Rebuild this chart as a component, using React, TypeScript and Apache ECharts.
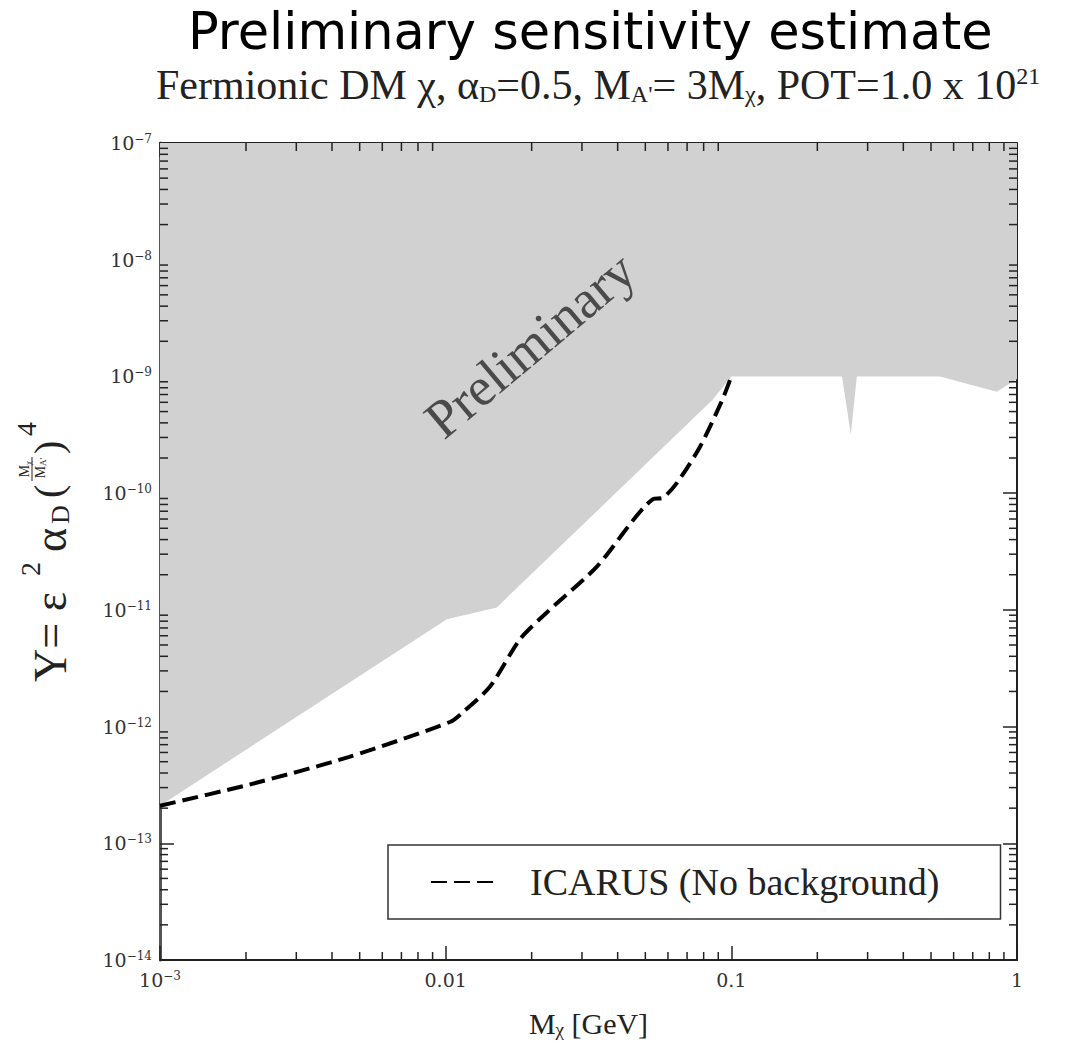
import React, { useEffect, useRef } from "react";
import * as echarts from "echarts";

// ---- axis ranges ----
const X_MIN = 1e-3;
const X_MAX = 1;
const Y_MIN = 1e-14;
const Y_MAX = 1e-7;

// ---- excluded (grey) region: lower boundary, filled up to the top ----
const excludedX = [0.001, 0.0101, 0.0151, 0.086, 0.1, 0.244, 0.262, 0.275, 0.537, 0.85, 1.0];
const excludedY = [2.1e-13, 8.3e-12, 1.05e-11, 6.3e-10, 1e-9, 1e-9, 3.2e-10, 1e-9, 1e-9, 7.4e-10, 9.5e-10];

// ---- ICARUS (No background) sensitivity curve ----
const icarusX = [0.001, 0.00207, 0.0046, 0.0104, 0.0115, 0.0143, 0.0182, 0.0226, 0.0339, 0.0532, 0.0575, 0.0646, 0.0777, 0.093, 0.1];
const icarusY = [2.1e-13, 3.2e-13, 5.5e-13, 1.1e-12, 1.33e-12, 2.2e-12, 5.6e-12, 9.5e-12, 2.36e-11, 8.9e-11, 9.1e-11, 1.23e-10, 2.5e-10, 6.3e-10, 1e-9];

// ---- tick decades ----
const xDecades = [-3, -2, -1];
const yDecades = [-14, -13, -12, -11, -10, -9, -8];
const minorMultipliers = [2, 3, 4, 5, 6, 7, 8, 9];

const SERIES_NAME = "ICARUS (No background)";
const SERIF = "Liberation Serif";
const TICKFONT = "DejaVu Serif";

function xLabel(v: number): string {
  const e = Math.round(Math.log10(v));
  if (e === -3) return "10{sup|−3}";
  if (e === -2) return "0.01";
  if (e === -1) return "0.1";
  if (e === 0) return "1";
  return String(v);
}
function yLabel(v: number): string {
  const e = Math.round(Math.log10(v));
  return "10{sup|−" + Math.abs(e) + "}";
}

export default function App() {
  const ref = useRef<HTMLDivElement>(null);
  useEffect(() => {
    if (!ref.current) return;
    const chart = echarts.init(ref.current, null, { renderer: "svg" });

    const minorData: number[][] = [];
    xDecades.forEach((d) => minorMultipliers.forEach((m) => minorData.push([m * Math.pow(10, d), Y_MIN, 0])));
    yDecades.forEach((d) => minorMultipliers.forEach((m) => minorData.push([X_MIN, m * Math.pow(10, d), 1])));

    const axisLine = { show: true, lineStyle: { color: "#222", width: 2 } };
    const majorTick = { show: true, inside: true, length: 14, lineStyle: { color: "#222", width: 1.5 } };
    const labelRich = { sup: { fontSize: 12, verticalAlign: "top" as const, fontFamily: TICKFONT, color: "#333", padding: [0, 0, 8, 0] } };

    const option: any = {
      animation: false,
      backgroundColor: "#fff",
      title: [
        {
          text: "Preliminary sensitivity estimate",
          left: 188,
          top: 3,
          padding: 0,
          textStyle: { fontFamily: "DejaVu Sans", fontSize: 51, lineHeight: 56, fontWeight: "normal", color: "#000" },
        },
        {
          text: "Fermionic DM χ, α{sub|D}=0.5, M{sub|A'}= 3M{sub|χ}, POT=1.0 x 10{sup|21}",
          left: 156,
          top: 64,
          padding: 0,
          textStyle: {
            fontFamily: SERIF,
            fontSize: 42,
            fontWeight: "normal",
            color: "#222",
            lineHeight: 42,
            rich: {
              sub: { fontFamily: SERIF, fontSize: 24, color: "#222", verticalAlign: "bottom", lineHeight: 38 },
              sup: { fontFamily: SERIF, fontSize: 24, color: "#222", verticalAlign: "top", lineHeight: 34 },
            },
          },
        },
      ],
      grid: { left: 160, top: 143, width: 857, height: 817, containLabel: false },
      legend: {
        data: [SERIES_NAME],
        left: 388,
        top: 845,
        itemWidth: 64,
        itemHeight: 14,
        padding: [18, 61, 18, 42],
        borderColor: "#333",
        borderWidth: 1.5,
        borderRadius: 0,
        backgroundColor: "#fff",
        itemStyle: { opacity: 0 },
        textStyle: { fontFamily: SERIF, fontSize: 38, color: "#222", padding: [0, 0, 0, 30] },
      },
      xAxis: [
        {
          type: "log",
          logBase: 10,
          min: X_MIN,
          max: X_MAX,
          position: "bottom",
          axisLine,
          axisTick: majorTick,
          splitLine: { show: false },
          axisLabel: {
            formatter: xLabel,
            margin: 10,
            fontFamily: TICKFONT,
            fontSize: 19,
            color: "#333",
            rich: labelRich,
          },
          name: "M{sub|χ} [GeV]",
          nameLocation: "middle",
          nameGap: 48,
          nameTextStyle: {
            fontFamily: SERIF,
            fontSize: 30,
            color: "#222",
            rich: { sub: { fontFamily: SERIF, fontSize: 19, color: "#222", verticalAlign: "bottom", padding: [12, 0, 0, 0] } },
          },
        },
        {
          type: "log",
          logBase: 10,
          min: X_MIN,
          max: X_MAX,
          position: "top",
          axisLine,
          axisTick: majorTick,
          splitLine: { show: false },
          axisLabel: { show: false },
        },
      ],
      yAxis: [
        {
          type: "log",
          logBase: 10,
          min: Y_MIN,
          max: Y_MAX,
          position: "left",
          axisLine: { show: true, lineStyle: { color: "#555", width: 3 } },
          axisTick: majorTick,
          splitLine: { show: false },
          axisLabel: {
            formatter: yLabel,
            margin: 8,
            fontFamily: TICKFONT,
            fontSize: 19,
            color: "#333",
            rich: labelRich,
          },
        },
        {
          type: "log",
          logBase: 10,
          min: Y_MIN,
          max: Y_MAX,
          position: "right",
          axisLine,
          axisTick: majorTick,
          splitLine: { show: false },
          axisLabel: { show: false },
        },
      ],
      series: [
        {
          name: "Excluded",
          type: "line",
          xAxisIndex: 0,
          yAxisIndex: 0,
          data: excludedX.map((x, i) => [x, excludedY[i]]),
          symbol: "none",
          lineStyle: { width: 0, opacity: 0 },
          areaStyle: { color: "#d1d1d1", opacity: 1, origin: "end" },
          silent: true,
          z: 1,
        },
        {
          name: SERIES_NAME,
          type: "line",
          xAxisIndex: 0,
          yAxisIndex: 0,
          data: icarusX.map((x, i) => [x, icarusY[i]]),
          symbol: "none",
          smooth: 0.25,
          lineStyle: { color: "#000", width: 4, type: [16, 7] },
          itemStyle: { color: "#000" },
          z: 3,
        },
        {
          name: "minorTicks",
          type: "custom",
          xAxisIndex: 0,
          yAxisIndex: 0,
          silent: true,
          z: 4,
          data: minorData,
          renderItem: (params: any, api: any) => {
            const cs = params.coordSys;
            const kind = api.value(2);
            const p = api.coord([api.value(0), api.value(1)]);
            const L = 8;
            const st = { stroke: "#222", lineWidth: 1.5 };
            if (kind === 0) {
              return {
                type: "group",
                children: [
                  { type: "line", shape: { x1: p[0], y1: cs.y + cs.height, x2: p[0], y2: cs.y + cs.height - L }, style: st },
                  { type: "line", shape: { x1: p[0], y1: cs.y, x2: p[0], y2: cs.y + L }, style: st },
                ],
              };
            }
            return {
              type: "group",
              children: [
                { type: "line", shape: { x1: cs.x, y1: p[1], x2: cs.x + L, y2: p[1] }, style: st },
                { type: "line", shape: { x1: cs.x + cs.width, y1: p[1], x2: cs.x + cs.width - L, y2: p[1] }, style: st },
              ],
            };
          },
        },
      ],
      graphic: [
        {
          type: "text",
          x: 530,
          y: 345,
          rotation: (40 * Math.PI) / 180,
          silent: true,
          z: 10,
          style: {
            text: "Preliminary",
            fontFamily: SERIF,
            fontSize: 54,
            fill: "#4a4a4a",
            align: "center",
            verticalAlign: "middle",
          },
        },
        {
          type: "group",
          x: 50,
          y: 682,
          rotation: Math.PI / 2,
          silent: true,
          children: [
            { type: "text", x: 0, y: 0, style: { text: "Y= ε", fontFamily: SERIF, fontSize: 46, fill: "#222", verticalAlign: "middle", align: "left" } },
            { type: "text", x: 106, y: -20, style: { text: "2", fontFamily: SERIF, fontSize: 28, fill: "#222", verticalAlign: "middle", align: "left" } },
            { type: "text", x: 130, y: 0, style: { text: "α", fontFamily: SERIF, fontSize: 46, fill: "#222", verticalAlign: "middle", align: "left" } },
            { type: "text", x: 158, y: 10, style: { text: "D", fontFamily: SERIF, fontSize: 26, fill: "#222", verticalAlign: "middle", align: "left" } },
            { type: "text", x: 184, y: -2, style: { text: "(", fontFamily: SERIF, fontSize: 40, fill: "#222", verticalAlign: "middle", align: "left" } },
            { type: "text", x: 211, y: -26, style: { text: "M", fontFamily: SERIF, fontSize: 14, fill: "#222", verticalAlign: "middle", align: "center" } },
            { type: "text", x: 219, y: -22, style: { text: "χ", fontFamily: SERIF, fontSize: 9, fill: "#222", verticalAlign: "middle", align: "center" } },
            { type: "line", shape: { x1: 201, y1: -18, x2: 225, y2: -18 }, style: { stroke: "#222", lineWidth: 1 } },
            { type: "text", x: 210, y: -10, style: { text: "M", fontFamily: SERIF, fontSize: 14, fill: "#222", verticalAlign: "middle", align: "center" } },
            { type: "text", x: 220, y: -7, style: { text: "A'", fontFamily: SERIF, fontSize: 9, fill: "#222", verticalAlign: "middle", align: "center" } },
            { type: "text", x: 228, y: -2, style: { text: ")", fontFamily: SERIF, fontSize: 40, fill: "#222", verticalAlign: "middle", align: "left" } },
            { type: "text", x: 246, y: -24, style: { text: "4", fontFamily: SERIF, fontSize: 28, fill: "#222", verticalAlign: "middle", align: "left" } },
          ],
        },
      ],
    };

    chart.setOption(option);
    return () => chart.dispose();
  }, []);

  return <div ref={ref} style={{ position: "absolute", left: 0, top: 0, width: 1081, height: 1044 }} />;
}
